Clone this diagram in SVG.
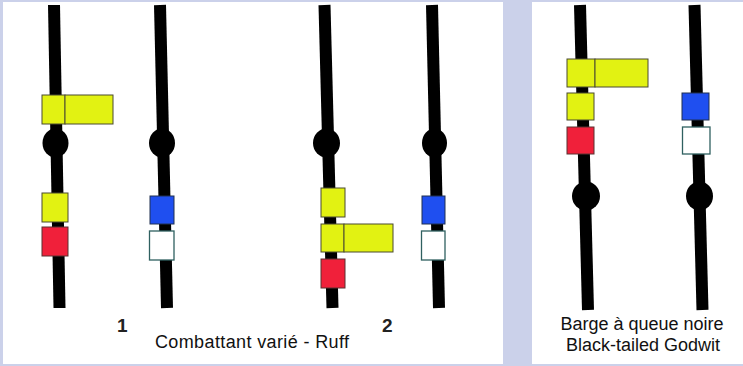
<svg xmlns="http://www.w3.org/2000/svg" width="743" height="366" viewBox="0 0 743 366">
<style>
.leg{stroke:#000;stroke-width:12;stroke-linecap:butt;fill:none}
.knee{fill:#000}
.y{fill:#e2f212;stroke:#4a4a30;stroke-width:1}
.r{fill:#f0203a;stroke:#5a3030;stroke-width:1}
.b{fill:#1f4ff0;stroke:#203050;stroke-width:1}
.w{fill:#fff;stroke:#2f6060;stroke-width:1.3}
.num{font-family:"Liberation Sans",Arial,sans-serif;font-weight:bold;font-size:19px;fill:#222}
.cap{font-family:"Liberation Sans",Arial,sans-serif;font-size:18px;fill:#111}
</style>
<rect x="0" y="0" width="743" height="366" fill="#cbd1ea"/>
<rect x="3" y="2" width="500" height="362" fill="#fff"/>
<rect x="532" y="2" width="211" height="362" fill="#fff"/>

<g id="ruff1-left">
<line class="leg" x1="54" y1="5" x2="59.5" y2="308"/>
<ellipse class="knee" cx="55.5" cy="143" rx="13" ry="14.5"/>
<rect class="y" x="42" y="95" width="23" height="29"/>
<rect class="y" x="65" y="95" width="48" height="29"/>
<rect class="y" x="42" y="193" width="26" height="29"/>
<rect class="r" x="42" y="227" width="26" height="29"/>
</g>
<g id="ruff1-right">
<line class="leg" x1="160" y1="5" x2="167" y2="308"/>
<ellipse class="knee" cx="162" cy="143" rx="13" ry="14.5"/>
<rect class="b" x="150" y="196" width="24" height="28"/>
<rect class="w" x="149.5" y="231" width="24.5" height="29"/>
</g>
<text class="num" x="117" y="332">1</text>

<g id="ruff2-left">
<line class="leg" x1="324.5" y1="5" x2="332.5" y2="308"/>
<ellipse class="knee" cx="326.5" cy="143" rx="13.5" ry="14.5"/>
<rect class="y" x="321" y="188" width="24" height="29"/>
<rect class="y" x="321" y="224" width="23" height="28"/>
<rect class="y" x="344" y="224" width="49" height="28"/>
<rect class="r" x="321" y="259" width="24" height="29"/>
</g>
<g id="ruff2-right">
<line class="leg" x1="432" y1="5" x2="439" y2="308"/>
<ellipse class="knee" cx="434.5" cy="143" rx="12.5" ry="14.5"/>
<rect class="b" x="422" y="196" width="23" height="28"/>
<rect class="w" x="421.5" y="231" width="23.5" height="29"/>
</g>
<text class="num" x="382" y="332">2</text>
<text class="cap" x="155" y="348" textLength="194">Combattant varié - Ruff</text>

<g id="godwit-left">
<line class="leg" x1="580" y1="5" x2="588" y2="310"/>
<ellipse class="knee" cx="586" cy="196" rx="14" ry="14.5"/>
<rect class="y" x="567" y="59" width="28" height="28"/>
<rect class="y" x="595" y="59" width="53" height="28"/>
<rect class="y" x="567" y="93" width="27" height="27"/>
<rect class="r" x="567" y="127" width="27" height="27"/>
</g>
<g id="godwit-right">
<line class="leg" x1="694.5" y1="5" x2="702.5" y2="310"/>
<ellipse class="knee" cx="699.5" cy="196" rx="13.5" ry="14.5"/>
<rect class="b" x="682" y="93" width="27" height="27"/>
<rect class="w" x="682.5" y="127" width="27.5" height="27"/>
</g>
<text class="cap" x="642" y="330" text-anchor="middle">Barge à queue noire</text>
<text class="cap" x="643" y="351" text-anchor="middle">Black-tailed Godwit</text>
</svg>
